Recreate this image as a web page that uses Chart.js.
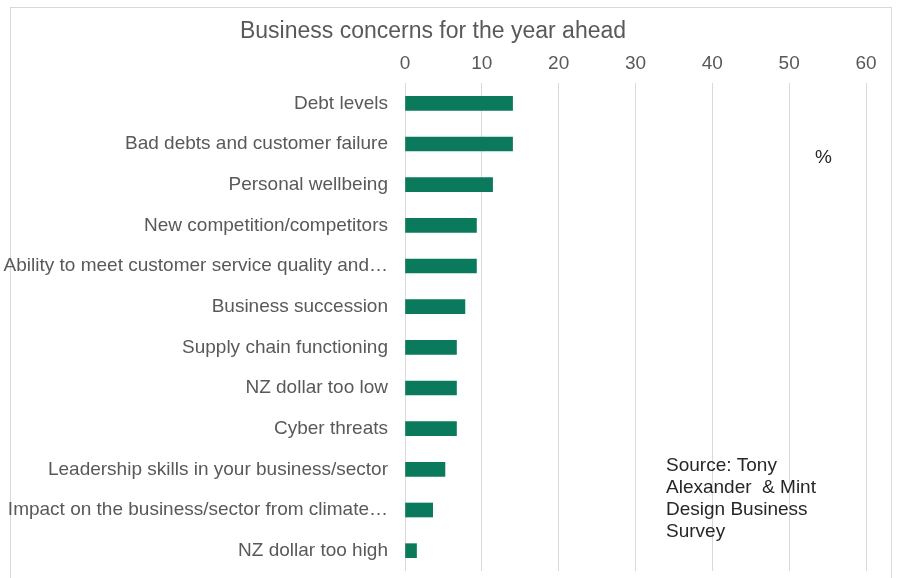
<!DOCTYPE html>
<html>
<head>
<meta charset="utf-8">
<title>Business concerns for the year ahead</title>
<script src="https://cdn.jsdelivr.net/npm/chart.js@4"></script>
<style>
    html, body { margin: 0; padding: 0; background: #fff; }
    #wrap { position: relative; width: 900px; height: 578px; overflow: hidden; }
    /* thin grey frame round the chart, open at the bottom */
    #frame {
        position: absolute; left: 10px; top: 7px; width: 882px; height: 620px;
        border: 1px solid #d9d9d9; box-sizing: border-box;
    }
    #concernsChart { position: absolute; left: 0; top: 0; }
</style>
</head>
<body>
<div id="wrap">
    <div id="frame"></div>
    <canvas id="concernsChart" width="900" height="578"></canvas>
</div>
<script>
// Survey responses, share of businesses (%)
const concerns = [
    "Debt levels",
    "Bad debts and customer failure",
    "Personal wellbeing",
    "New competition/competitors",
    "Ability to meet customer service quality and…",
    "Business succession",
    "Supply chain functioning",
    "NZ dollar too low",
    "Cyber threats",
    "Leadership skills in your business/sector",
    "Impact on the business/sector from climate…",
    "NZ dollar too high"
];
const sharePct = [14, 14, 11.4, 9.3, 9.3, 7.8, 6.7, 6.7, 6.7, 5.2, 3.6, 1.5];
const xTicks = [0, 10, 20, 30, 40, 50, 60];
const sourceLines = ["Source: Tony", "Alexander  & Mint", "Design Business", "Survey"];

const FONT = "'Liberation Sans', Arial, sans-serif";
const GREY_TEXT = '#595959';

// Text boxes that sit inside the plot: unit marker and source note
const notesPlugin = {
    id: 'notes',
    afterDraw(chart) {
        const ctx = chart.ctx;
        ctx.save();
        ctx.fillStyle = '#262626';
        ctx.textAlign = 'left';
        ctx.textBaseline = 'middle';
        ctx.font = `19px ${FONT}`;
        ctx.fillText('%', 815, 158);
        sourceLines.forEach((line, i) => {
            ctx.fillText(line, 666, 466 + i * 22);
        });
        ctx.restore();
    }
};

new Chart(document.getElementById('concernsChart'), {
    type: 'bar',
    data: {
        labels: concerns,
        datasets: [{
            data: sharePct,
            backgroundColor: '#0b7a5c',
            borderWidth: 0,
            barThickness: 14
        }]
    },
    options: {
        responsive: false,
        animation: false,
        indexAxis: 'y',
        layout: {
            padding: { left: 0, right: 34, top: 0, bottom: 7 }
        },
        plugins: {
            legend: { display: false },
            tooltip: { enabled: false },
            title: {
                display: true,
                text: 'Business concerns for the year ahead',
                color: GREY_TEXT,
                font: { family: FONT, size: 23, weight: 'normal' },
                padding: { top: 18, bottom: 0 }
            }
        },
        scales: {
            x: {
                position: 'top',
                min: 0,
                max: 60,
                afterBuildTicks(scale) {
                    scale.ticks = xTicks.map(v => ({ value: v }));
                },
                afterFit(scale) {
                    scale.height = 37.4;
                },
                ticks: {
                    color: GREY_TEXT,
                    font: { family: FONT, size: 19 },
                    padding: 8,
                    maxRotation: 0
                },
                grid: {
                    color: '#d9d9d9',
                    drawTicks: false
                },
                border: { display: false }
            },
            y: {
                afterFit(scale) {
                    // fixed label column, and no extra room above/below the first/last label
                    scale.width = 405;
                    scale.paddingTop = 0;
                    scale.paddingBottom = 0;
                },
                ticks: {
                    color: GREY_TEXT,
                    font: { family: FONT, size: 19 },
                    padding: 17,
                    autoSkip: false
                },
                grid: { display: false, drawTicks: false },
                border: { display: false }
            }
        }
    },
    plugins: [notesPlugin]
});
</script>
</body>
</html>
